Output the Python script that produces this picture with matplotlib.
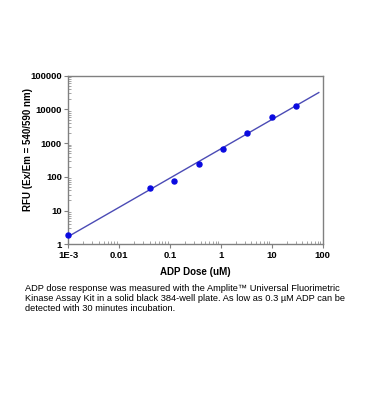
import matplotlib
matplotlib.use("Agg")
import matplotlib.pyplot as plt
import numpy as np
from matplotlib.ticker import LogLocator, FixedLocator, FixedFormatter, NullFormatter

# Data
dose_um = [0.001, 0.041, 0.123, 0.37, 1.11, 3.33, 10.0, 30.0]
rfu = [1.9, 48, 76, 241, 690, 2050, 5900, 12900]

# Fit line (log-log): log10(y) = fit_intercept + fit_slope * log10(x)
fit_slope = 0.868
fit_intercept = 0.226 + 3 * 0.868
fit_x_range = [0.001, 84.0]

x_ticks = [0.001, 0.01, 0.1, 1, 10, 100]
x_tick_labels = ["1E-3", "0.01", "0.1", "1", "10", "100"]
y_ticks = [1, 10, 100, 1000, 10000, 100000]
y_tick_labels = ["1", "10", "100", "1000", "10000", "100000"]

caption = ("ADP dose response was measured with the Amplite\u2122 Universal Fluorimetric\n"
           "Kinase Assay Kit in a solid black 384-well plate. As low as 0.3 \u00b5M ADP can be\n"
           "detected with 30 minutes incubation.")

plt.rcParams['font.family'] = ['Liberation Sans', 'DejaVu Sans']

fig = plt.figure(figsize=(3.70, 4.19), dpi=100)
ax = fig.add_axes([0.1838, 0.4169, 0.872 - 0.1838, 0.8193 - 0.4169])

fx = np.logspace(np.log10(fit_x_range[0]), np.log10(fit_x_range[1]), 50)
fy = 10 ** (fit_intercept + fit_slope * np.log10(fx))
ax.plot(fx, fy, color="#4b4bb5", lw=1.0, zorder=2)
ax.scatter(dose_um, rfu, s=13, color="#0a0ae0", zorder=3, clip_on=False)

ax.set_xscale("log")
ax.set_yscale("log")
ax.set_xlim(0.001, 100)
ax.set_ylim(1, 100000)

ax.xaxis.set_major_locator(FixedLocator(x_ticks))
ax.xaxis.set_major_formatter(FixedFormatter(x_tick_labels))
ax.yaxis.set_major_locator(FixedLocator(y_ticks))
ax.yaxis.set_major_formatter(FixedFormatter(y_tick_labels))
ax.xaxis.set_minor_locator(LogLocator(base=10, subs=np.arange(2, 10)))
ax.yaxis.set_minor_locator(LogLocator(base=10, subs=np.arange(2, 10)))
ax.xaxis.set_minor_formatter(NullFormatter())
ax.yaxis.set_minor_formatter(NullFormatter())

ax.tick_params(which="major", direction="out", length=3, width=0.8, color="#808080",
               labelsize=6.8, pad=1.5)
ax.tick_params(which="minor", direction="in", length=2, width=0.5, color="#808080")
for lab in ax.get_xticklabels() + ax.get_yticklabels():
    lab.set_fontweight("bold")

for sp in ax.spines.values():
    sp.set_color("#808080")
    sp.set_linewidth(1.0)

ax.set_xlabel("ADP Dose (uM)", fontsize=7, fontweight="bold", labelpad=5)
ax.set_ylabel("RFU (Ex/Em = 540/590 nm)", fontsize=7, fontweight="bold")
ax.yaxis.set_label_coords(-0.137, 0.562)

fig.text(0.068, 0.323, caption, fontsize=6.7, va="top", ha="left", linespacing=1.15)

fig.savefig("out.png", dpi=100)
